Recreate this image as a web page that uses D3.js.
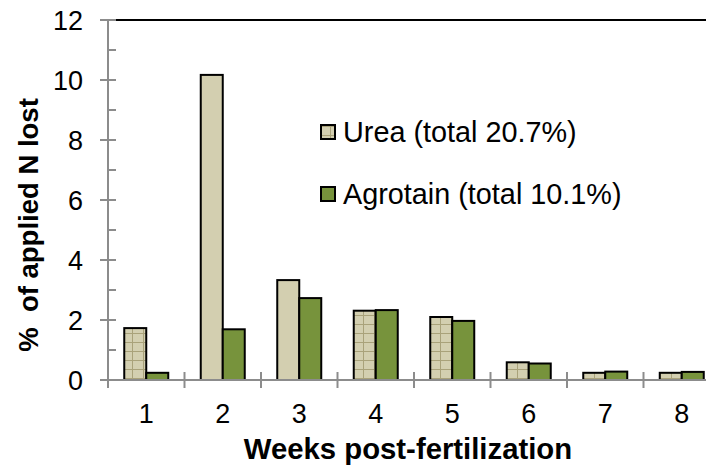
<!DOCTYPE html>
<html>
<head>
<meta charset="utf-8">
<script src="https://cdn.jsdelivr.net/npm/d3@7"></script>
<style>
  body { margin: 0; background: #fff; }
  text { font-family: Arial, "Liberation Sans", sans-serif; }
</style>
</head>
<body>
<div id="container"></div>
<script>
/* DATA */
const weeks = ["1", "2", "3", "4", "5", "6", "7", "8"]
const urea = [1.73, 10.17, 3.33, 2.31, 2.10, 0.59, 0.24, 0.24]
const agrotain = [0.24, 1.69, 2.73, 2.33, 1.97, 0.55, 0.28, 0.27]
const seriesNames = ["Urea (total 20.7%)", "Agrotain (total 10.1%)"]
const yTicks = [0, 2, 4, 6, 8, 10, 12]

/* CONSTANTS */
const width = 706, height = 467
const margin = { top: 20, left: 108, bottom: 87 }
const bandW = 76.5

const svg = d3.select("#container")
  .append("svg")
  .attr("width", width)
  .attr("height", height)

// grid pattern used on the urea bars
const defs = svg.append("defs")
const pat = defs.append("pattern")
  .attr("id", "grid")
  .attr("patternUnits", "userSpaceOnUse")
  .attr("width", 11).attr("height", 9)
pat.append("rect").attr("width", 11).attr("height", 9).attr("fill", "#d3cfb0")
pat.append("path").attr("d", "M0,0.5H11M0.5,0V9")
  .attr("stroke", "#a9a27a").attr("stroke-width", 1)

const xScale = d3.scaleBand()
  .domain(weeks)
  .range([margin.left, margin.left + bandW * weeks.length])

const yScale = d3.scaleLinear()
  .domain([0, 12])
  .range([height - margin.bottom, margin.top])

const x0 = xScale.range()[0]
const yBase = yScale(0)

// top border line
svg.append("line")
  .attr("x1", x0 + 7).attr("x2", width)
  .attr("y1", yScale(12)).attr("y2", yScale(12))
  .attr("stroke", "#000").attr("stroke-width", 2)

// Y axis
svg.append("line")
  .attr("x1", x0).attr("x2", x0)
  .attr("y1", yScale(12)).attr("y2", yBase + 8)
  .attr("stroke", "#8c8c8c").attr("stroke-width", 2)

svg.selectAll(".ymaj")
  .data(yTicks)
  .join("line")
  .attr("x1", x0 - 8).attr("x2", x0 + 8)
  .attr("y1", d => yScale(d)).attr("y2", d => yScale(d))
  .attr("stroke", "#8c8c8c").attr("stroke-width", 2)

svg.selectAll(".ymin")
  .data(yTicks.slice(0, -1).map(d => d + 1))
  .join("line")
  .attr("x1", x0).attr("x2", x0 + 8)
  .attr("y1", d => yScale(d)).attr("y2", d => yScale(d))
  .attr("stroke", "#8c8c8c").attr("stroke-width", 2)

svg.selectAll(".ylab")
  .data(yTicks)
  .join("text")
  .attr("x", 83)
  .attr("y", d => yScale(d) + 9.7)
  .attr("text-anchor", "end")
  .attr("font-size", 27)
  .text(d => d)

svg.append("text")
  .attr("transform", `translate(38, 225) rotate(-90)`)
  .attr("text-anchor", "middle")
  .attr("font-size", 27.5)
  .attr("font-weight", "bold")
  .attr("xml:space", "preserve")
  .text("%  of applied N lost")

// bars
const barW = 22
weeks.forEach((w, i) => {
  const cx = xScale(w) + xScale.bandwidth() / 2
  const plain = (i === 1 || i === 2)
  svg.append("rect")
    .attr("x", cx - barW).attr("width", barW)
    .attr("y", yScale(urea[i])).attr("height", yBase - yScale(urea[i]))
    .attr("fill", plain ? "#d3cfb0" : "url(#grid)")
    .attr("stroke", "#000").attr("stroke-width", 2)
  svg.append("rect")
    .attr("x", cx).attr("width", barW)
    .attr("y", yScale(agrotain[i])).attr("height", yBase - yScale(agrotain[i]))
    .attr("fill", "#77933c")
    .attr("stroke", "#000").attr("stroke-width", 2)
})

// X axis
svg.append("line")
  .attr("x1", x0).attr("x2", width)
  .attr("y1", yBase).attr("y2", yBase)
  .attr("stroke", "#8c8c8c").attr("stroke-width", 2)

svg.selectAll(".xtick")
  .data(d3.range(weeks.length + 1))
  .join("line")
  .attr("x1", d => x0 + d * bandW).attr("x2", d => x0 + d * bandW)
  .attr("y1", yBase - 8).attr("y2", yBase + 8)
  .attr("stroke", "#8c8c8c").attr("stroke-width", 2)

svg.selectAll(".xlab")
  .data(weeks)
  .join("text")
  .attr("x", d => xScale(d) + xScale.bandwidth() / 2)
  .attr("y", 423)
  .attr("text-anchor", "middle")
  .attr("font-size", 27)
  .text(d => d)

svg.append("text")
  .attr("x", 408)
  .attr("y", 459)
  .attr("text-anchor", "middle")
  .attr("font-size", 29.3)
  .attr("font-weight", "bold")
  .text("Weeks post-fertilization")

// legend
const legend = svg.append("g")
seriesNames.forEach((name, i) => {
  const y = 125 + i * 62
  legend.append("rect")
    .attr("x", 321).attr("y", y).attr("width", 14).attr("height", 14)
    .attr("fill", i === 0 ? "url(#grid)" : "#77933c")
    .attr("stroke", "#000").attr("stroke-width", 2)
  legend.append("text")
    .attr("x", 343).attr("y", y + 17)
    .attr("font-size", 28.8)
    .text(name)
})
</script>
</body>
</html>
